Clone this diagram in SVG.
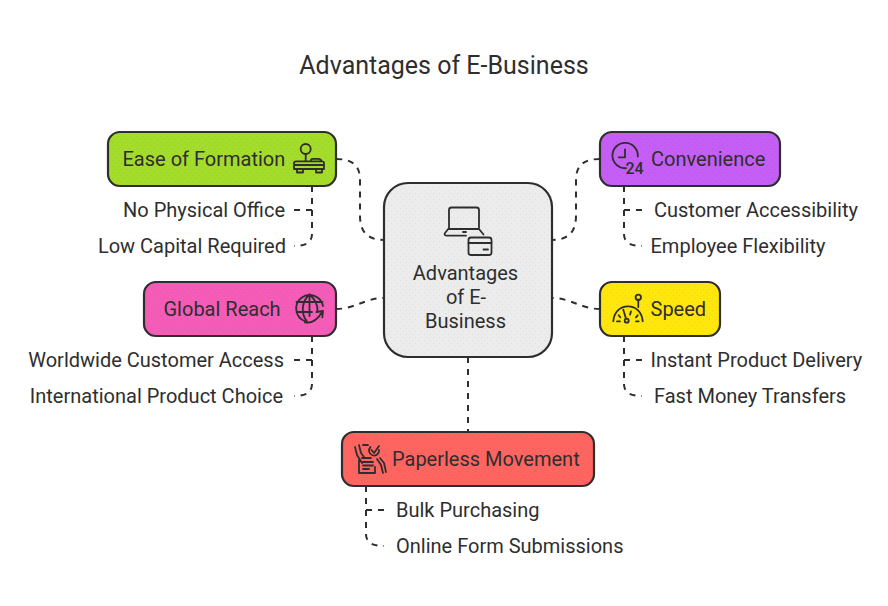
<svg xmlns="http://www.w3.org/2000/svg" width="888" height="606" viewBox="0 0 888 606">
<defs>
<pattern id="dots" width="6" height="6" patternUnits="userSpaceOnUse">
<circle cx="1.500" cy="1.500" r="0.500" fill="#000" opacity="0.08"/>
<circle cx="4.500" cy="4.500" r="0.500" fill="#000" opacity="0.08"/>
</pattern>
</defs>
<style>
text{font-family:Roboto,"Liberation Sans",sans-serif;fill:#2e2e2e;font-size:20px}
.t{font-size:25px}
.m{text-anchor:middle}
.e{text-anchor:end}
.n{stroke:#2e2e2e;stroke-width:2.200}
.d{fill:url(#dots)}
.c{fill:none;stroke:#2e2e2e;stroke-width:2;stroke-dasharray:6 6}
.i{fill:none;stroke:#2e2e2e;stroke-width:1.800;stroke-linecap:round;stroke-linejoin:round}
</style>
<rect width="888" height="606" fill="#fff"/>
<text class="t m" x="444" y="74">Advantages of E-Business</text>
<g id="connectors">
<path class="c" d="M336 159C352 159 360 165 360 180V216C360 232 368 240 384 240"/>
<path class="c" d="M600 159C584 159 576 165 576 180V216C576 232 568 240 552 240"/>
<path class="c" d="M336 309C355 309 365 298 384 298"/>
<path class="c" d="M600 309C581 309 571 298 552 298"/>
<path class="c" d="M468 357V432"/>
<path class="c" d="M312 186V234C312 243 305 246 294 246"/>
<path class="c" d="M312 210H294"/>
<path class="c" d="M624 186V234C624 243 631 246 642 246"/>
<path class="c" d="M624 210H642"/>
<path class="c" d="M312 336V384C312 393 305 396 294 396"/>
<path class="c" d="M312 360H294"/>
<path class="c" d="M624 336V384C624 393 631 396 642 396"/>
<path class="c" d="M624 360H642"/>
<path class="c" d="M366 486V534C366 543 373 546 384 546"/>
<path class="c" d="M366 510H384"/>
</g>
<g id="center">
<rect class="n" x="384" y="183" width="168" height="174" rx="24" fill="#ececec"/>
<rect class="d" x="386" y="185" width="164" height="170" rx="22"/>
<path class="i" d="M449 228V210Q449 207.500 451.500 207.500H476.500Q479 207.500 479 210V228M449 228L445 233Q443.500 235.700 447 235.700H466M449 229H479L483.500 234.500M463 232H466"/>
<rect class="i" x="468.500" y="237.500" width="23" height="17.500" rx="2.500"/>
<path class="i" d="M468.500 243H491.500M483.500 249.500H488"/>
<text class="m" x="465.500" y="280">Advantages</text>
<text class="m" x="466" y="304">of E-</text>
<text class="m" x="465.500" y="328">Business</text>
</g>
<g id="ease">
<rect class="n" x="108" y="132" width="228" height="54" rx="12" fill="#a4dc2b"/>
<rect class="d" x="110" y="134" width="224" height="50" rx="10"/>
<text x="122.500" y="166">Ease of Formation</text>
<circle class="i" cx="305.700" cy="149" r="5"/>
<path class="i" d="M305.700 154V161M294 169V163Q294 161.300 296 161.300H322Q324 161.300 324 163V169ZM311 161V160Q311 158.800 313 158.800H318Q321 158.800 321.500 161M294 165H324M297 170V172.500H303V170M316 170V172.500H322V170"/>
</g>
<g id="text-ease">
<text class="e" x="285" y="217">No Physical Office</text>
<text class="e" x="286" y="253">Low Capital Required</text>
</g>
<g id="convenience">
<rect class="n" x="600" y="132" width="180" height="54" rx="12" fill="#c45ef5"/>
<rect class="d" x="602" y="134" width="176" height="50" rx="10"/>
<path class="i" d="M626 168.200A12.700 12.700 0 1 1 637.800 156.500M625 149.300V157.300H618.700"/>
<text x="625.500" y="174" style="font-size:16px;font-weight:500">24</text>
<text x="651" y="166">Convenience</text>
</g>
<g id="text-convenience">
<text x="654" y="217">Customer Accessibility</text>
<text x="650.500" y="253">Employee Flexibility</text>
</g>
<g id="global">
<rect class="n" x="144" y="282" width="192" height="54" rx="12" fill="#f45cb8"/>
<rect class="d" x="146" y="284" width="188" height="50" rx="10"/>
<text x="163.500" y="316">Global Reach</text>
<path class="i" d="M304.700 321A13.500 13.500 0 1 1 323 306M309.500 294.500C301 302 301 314 307 321.500M309.500 294.500C316 300 318 306 317.500 312M309.500 294.500V316M296.500 302H322.500M296.500 312H312M304.700 322.300C312 324 318 319 322.500 311.500M316.500 312L323 311L322.300 317.300"/>
</g>
<g id="text-global">
<text class="e" x="284" y="367">Worldwide Customer Access</text>
<text class="e" x="283" y="403">International Product Choice</text>
</g>
<g id="speed">
<rect class="n" x="600" y="282" width="120" height="54" rx="12" fill="#ffe60d"/>
<rect class="d" x="602" y="284" width="116" height="50" rx="10"/>
<path class="i" d="M613.300 321.300C614 312 620 306.300 628 306.300C636 306.300 642 312 642.700 321.300M618.700 315.300L620.300 317.300M617 321.300H620M631 311.300L630 314.700M637.700 315.300L636 317.300M636 321.300H638.700M623.300 309.700L626 318.700"/>
<circle class="i" cx="626.700" cy="320.700" r="2"/>
<circle class="i" cx="638.300" cy="297.300" r="2.700"/>
<path class="i" d="M638.300 300V307"/>
<text x="650.500" y="316">Speed</text>
</g>
<g id="text-speed">
<text x="650.500" y="367">Instant Product Delivery</text>
<text x="654" y="403">Fast Money Transfers</text>
</g>
<g id="paperless">
<rect class="n" x="342" y="432" width="252" height="54" rx="12" fill="#ff6560"/>
<rect class="d" x="344" y="434" width="248" height="50" rx="10"/>
<path class="i" d="M359 460V473H375V467M362 458H371M363 462H373M363 465.500H373M363 469H369M355 447L357 455L362 463M359 445L361 453L364 457M363 445H368M370.500 447A5 5 0 1 0 379 450M371.500 450L374 453L379 446M377 459L381 465L383 473M380 458L384 463L386 472"/>
<text x="392" y="466">Paperless Movement</text>
</g>
<g id="text-paperless">
<text x="396" y="517">Bulk Purchasing</text>
<text x="396" y="553">Online Form Submissions</text>
</g>
</svg>
